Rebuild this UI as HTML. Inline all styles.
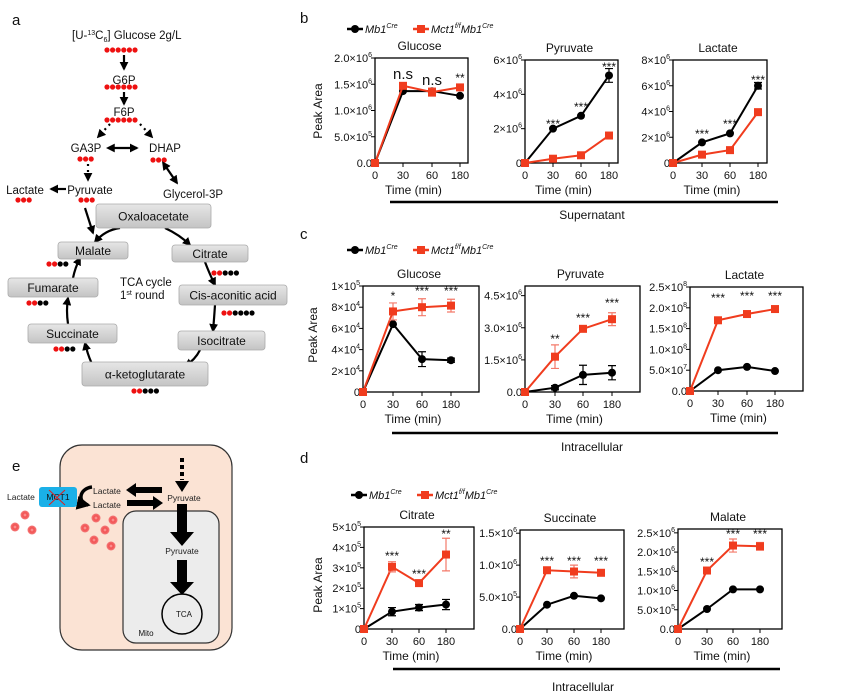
<!DOCTYPE html>
<html><head><meta charset="utf-8"><style>
html,body{margin:0;padding:0;background:#fff}
svg{display:block;font-family:"Liberation Sans",Arial,sans-serif}
</style></head><body>
<svg id="s" width="866" height="699" viewBox="0 0 866 699" xmlns="http://www.w3.org/2000/svg">
<defs>
<linearGradient id="gb" x1="0" y1="0" x2="0" y2="1"><stop offset="0" stop-color="#e6e6e6"/><stop offset="1" stop-color="#c4c4c4"/></linearGradient>
<radialGradient id="rb" cx="0.5" cy="0.5" r="0.5"><stop offset="0" stop-color="#ffb0b0"/><stop offset="0.45" stop-color="#f25050"/><stop offset="1" stop-color="#f47a7a"/></radialGradient>
<marker id="ah" viewBox="0 0 10 10" refX="8" refY="5" markerWidth="4" markerHeight="4" orient="auto"><path d="M0,0L10,5L0,10z" fill="#000"/></marker>
<marker id="ahs" viewBox="0 0 10 10" refX="2" refY="5" markerWidth="4" markerHeight="4" orient="auto-start-reverse"><path d="M0,0L10,5L0,10z" fill="#000"/></marker>
</defs>
<g id="a" font-size="11.5" fill="#111">
<text x="12" y="25" font-size="15">a</text>
<text x="72" y="39">[U-<tspan font-size="7" dy="-4">13</tspan><tspan dy="4">C</tspan><tspan font-size="7" dy="3">6</tspan><tspan dy="-3">] Glucose  2g/L</tspan></text>
<text x="124" y="84" text-anchor="middle">G6P</text>
<text x="124" y="116" text-anchor="middle">F6P</text>
<text x="86" y="152" text-anchor="middle">GA3P</text>
<text x="165" y="152" text-anchor="middle">DHAP</text>
<text x="90" y="194" text-anchor="middle">Pyruvate</text>
<text x="25" y="194" text-anchor="middle">Lactate</text>
<text x="193" y="198" text-anchor="middle">Glycerol-3P</text>
<text x="120" y="286">TCA cycle</text>
<text x="120" y="299">1<tspan font-size="7" dy="-4">st</tspan><tspan dy="4"> round</tspan></text>
</g>
<g id="e" fill="#111">
<text x="12" y="471" font-size="15">e</text>
<text x="182" y="462" font-size="12" font-weight="bold" text-anchor="middle">Glucose</text>
<rect x="60" y="445" width="172" height="205" rx="22" fill="#fbe3d4" stroke="#333" stroke-width="1.2"/>
<rect x="123" y="511" width="96" height="132" rx="13" fill="#ececec" stroke="#333" stroke-width="1.2"/>
<line x1="182" y1="458" x2="182" y2="480" stroke="#000" stroke-width="4" stroke-dasharray="4,3"/>
<path d="M175,481L189,481L182,492z" fill="#000"/>
<text x="184" y="501" font-size="8.5" text-anchor="middle" fill="#222">Pyruvate</text>
<path d="M177,504h10v28h7l-12,14l-12,-14h7z" fill="#000"/>
<text x="182" y="554" font-size="8.5" text-anchor="middle" fill="#222">Pyruvate</text>
<path d="M177,560h10v22h7l-12,13l-12,-13h7z" fill="#000"/>
<circle cx="182" cy="614" r="20" fill="none" stroke="#000" stroke-width="1.5"/>
<text x="184" y="617" font-size="8" text-anchor="middle">TCA</text>
<text x="146" y="636" font-size="8" text-anchor="middle">Mito</text>
<path d="M162,487v6h-26v4l-10,-7l10,-7v4z" fill="#000"/>
<path d="M127,500h26v-4l10,7l-10,7v-4h-26z" fill="#000"/>
<text x="93" y="494" font-size="8.5" fill="#222">Lactate</text>
<text x="93" y="508" font-size="8.5" fill="#222">Lactate</text>
<path d="M92,487C78,489 78,503 88,505" fill="none" stroke="#000" stroke-width="3.5" marker-end="url(#ah)"/>
<rect x="39" y="487" width="38" height="20" rx="3" fill="#1ab0e8"/>
<text x="58" y="500" font-size="8.5" text-anchor="middle" fill="#111">MCT1</text>
<path d="M49,490L65,505M65,490L49,505" stroke="#e02020" stroke-width="1"/>
<text x="7" y="500" font-size="8.5" fill="#222">Lactate</text>
<g fill="url(#rb)"><circle cx="25" cy="515" r="4.5"/><circle cx="15" cy="527" r="4.5"/><circle cx="32" cy="530" r="4.5"/><circle cx="96" cy="518" r="4.5"/><circle cx="113" cy="520" r="4.5"/><circle cx="85" cy="528" r="4.5"/><circle cx="105" cy="530" r="4.5"/><circle cx="94" cy="540" r="4.5"/><circle cx="111" cy="546" r="4.5"/></g>
</g>
<g id="ch"></g>
</svg>
<script>
var NS="http://www.w3.org/2000/svg";
function el(p,t,a,txt){var e=document.createElementNS(NS,t);for(var k in a)e.setAttribute(k,a[k]);if(txt!==undefined)e.textContent=txt;p.appendChild(e);return e;}
var S=document.getElementById('s'),A=document.getElementById('a'),C=document.getElementById('ch');
// panel a
function dots(g,x,y,n,red){for(var i=0;i<n;i++)el(g,'circle',{cx:x+i*5.6,cy:y,r:2.6,fill:i<red?'#ee1111':'#000'});}
dots(A,107,50,6,6);dots(A,107,87,6,6);dots(A,107,120,6,6);
dots(A,80,159,3,3);dots(A,153,160,3,3);dots(A,81,200,3,3);dots(A,18,200,3,3);
dots(A,49,264,4,2);dots(A,29,303,4,2);dots(A,56,349,4,2);dots(A,214,273,5,2);dots(A,224,313,6,2);dots(A,134,391,5,2);
function ln(g,x1,y1,x2,y2,w,both,dash){var a={x1:x1,y1:y1,x2:x2,y2:y2,stroke:'#000','stroke-width':w||2,'marker-end':'url(#ah)'};if(both)a['marker-start']='url(#ahs)';if(dash)a['stroke-dasharray']=dash;el(g,'line',a);}
ln(A,124,55,124,69,2.2);ln(A,124,92,124,104,2.2);
ln(A,110,124,98,137,2.2,false,'2,4');ln(A,140,124,152,137,2.2,false,'2,4');
ln(A,113,148,137,148,2.2,true);ln(A,88,164,88,180,2.2,false,'2,4');
ln(A,66,189,51,189,2.2);ln(A,166,167,177,183,2.2,true);ln(A,85,208,93,233,2.2);
function cyc(d){el(A,'path',{d:d,fill:'none',stroke:'#000','stroke-width':2.2,'marker-end':'url(#ah)'});}
cyc('M120,228Q105,230 95,242');cyc('M165,228Q180,235 190,245');cyc('M205,262Q210,275 215,285');
cyc('M215,305Q214,320 213,331');cyc('M200,350Q195,360 185,366');cyc('M100,376Q90,365 85,343');
cyc('M68,324Q66,310 68,298');cyc('M73,278Q75,268 80,258');
function box(x,y,w,h,t,fs){el(A,'rect',{x:x,y:y,width:w,height:h,rx:3,fill:'url(#gb)',stroke:'#aaa','stroke-width':0.8});el(A,'text',{x:x+w/2,y:y+h/2+4.5,'text-anchor':'middle','font-size':fs||12},t);}
box(96,204,115,24,'Oxaloacetate');box(58,242,70,17,'Malate');box(172,245,76,17,'Citrate');
box(8,278,90,19,'Fumarate');box(179,285,108,20,'Cis-aconitic acid');box(28,324,89,19,'Succinate');
box(178,331,87,19,'Isocitrate');box(82,362,126,24,'α-ketoglutarate');
// charts
function T(x,y,t,o){var a={x:x,y:y,'font-size':11,fill:'#111'};for(var k in o)a[k]=o[k];return el(C,'text',a,t);}
function legend(y,lx){el(C,'line',{x1:lx,y1:y,x2:lx+16,y2:y,stroke:'#000','stroke-width':2.5});el(C,'circle',{cx:lx+8,cy:y,r:4,fill:'#000'});
T(lx+18,y+4,'',{}).innerHTML='<tspan font-style="italic" font-size="11">Mb1</tspan><tspan font-style="italic" font-size="7" dy="-5">Cre</tspan>';
var r=lx+66;el(C,'line',{x1:r,y1:y,x2:r+16,y2:y,stroke:'#f03c1e','stroke-width':2.5});el(C,'rect',{x:r+4,y:y-4,width:8,height:8,fill:'#f03c1e'});
T(r+18,y+4,'').innerHTML='<tspan font-style="italic">Mct1</tspan><tspan font-style="italic" font-size="7" dy="-5">f/f</tspan><tspan font-style="italic" dy="5">Mb1</tspan><tspan font-style="italic" font-size="7" dy="-5">Cre</tspan>';}
function chart(c){var x0=c.b[0],x1=c.b[1],y0=c.b[2],y1=c.b[3];
function Y(v){return y1-(v/c.ymax)*(y1-y0);}
el(C,'rect',{x:x0,y:y0,width:x1-x0,height:y1-y0,fill:'none',stroke:'#000','stroke-width':1.3});
T((x0+x1)/2-2,y0-8,c.title,{'text-anchor':'middle','font-size':12});
c.ticks.forEach(function(t){var y=Y(t[0]);el(C,'line',{x1:x0-4,y1:y,x2:x0,y2:y,stroke:'#000'});T(x0-3,y+4,'',{'text-anchor':'end','font-size':11}).innerHTML=t[1];});
var lab=['0','30','60','180'];c.xt.forEach(function(x,i){el(C,'line',{x1:x,y1:y1,x2:x,y2:y1+4,stroke:'#000'});T(x,y1+16,lab[i],{'text-anchor':'middle','font-size':11});});
T((x0+x1)/2-8,y1+31,'Time (min)',{'text-anchor':'middle','font-size':12});
[['#000',c.k,c.ke],['#f03c1e',c.r,c.re]].forEach(function(s,si){var p='';s[1].forEach(function(v,i){p+=(i?'L':'M')+c.xt[i]+','+Y(v);});
el(C,'path',{d:p,fill:'none',stroke:s[0],'stroke-width':2});
s[1].forEach(function(v,i){var e=(s[2]||[])[i]||0,x=c.xt[i];if(e){el(C,'path',{d:'M'+x+','+Y(v-e)+'V'+Y(v+e)+'M'+(x-4)+','+Y(v-e)+'h8M'+(x-4)+','+Y(v+e)+'h8',stroke:si?'#f47a6a':'#000','stroke-width':1.2,fill:'none'});}
if(si)el(C,'rect',{x:x-4,y:Y(v)-4,width:8,height:8,fill:s[0]});else el(C,'circle',{cx:x,cy:Y(v),r:4,fill:'#000'});});});
(c.st||[]).forEach(function(s){T(c.xt[s[0]],s[2],s[1],{'text-anchor':'middle','font-size':s[3]||12});});}
function S5(m,e){return m+'×10<tspan font-size="7" dy="-5">'+e+'</tspan>';}
// panel b
T(300,23,'b',{'font-size':15});legend(29,347);
chart({b:[375,468,58,163],ymax:2,title:'Glucose',ticks:[[2,S5('2.0',6)],[1.5,S5('1.5',6)],[1,S5('1.0',6)],[0.5,S5('5.0',5)],[0,'0.0']],xt:[375,403,432,460],k:[0,1.37,1.37,1.28],r:[0,1.47,1.35,1.44],re:[0,0.05,0.08,0.04],st:[[1,'n.s',79,15],[2,'n.s',85,15],[3,'**',82]]});
chart({b:[525,618,60,163],ymax:6,title:'Pyruvate',ticks:[[6,S5('6',6)],[4,S5('4',6)],[2,S5('2',6)],[0,'0']],xt:[525,553,581,609],k:[0,2.0,2.75,5.1],ke:[0,0,0,0.4],r:[0,0.25,0.45,1.6],st:[[1,'***',128],[2,'***',111],[3,'***',71]]});
chart({b:[673,767,60,163],ymax:8,title:'Lactate',ticks:[[8,S5('8',6)],[6,S5('6',6)],[4,S5('4',6)],[2,S5('2',6)],[0,'0']],xt:[673,702,730,758],k:[0,1.6,2.3,6.0],ke:[0,0,0,0.25],r:[0,0.65,1.0,3.95],st:[[1,'***',138],[2,'***',128],[3,'***',84]]});
el(C,'line',{x1:390,y1:202,x2:778,y2:202,stroke:'#000','stroke-width':2.5});T(592,219,'Supernatant',{'text-anchor':'middle','font-size':12});
// panel c
T(300,239,'c',{'font-size':15});legend(250,347);
chart({b:[363,479,286,392],ymax:10,title:'Glucose',ticks:[[10,'1×10<tspan font-size="7" dy="-5">5</tspan>'],[8,S5('8',4).replace('8×','8×')],[6,S5('6',4)],[4,S5('4',4)],[2,S5('2',4)],[0,'0']],xt:[363,393,422,451],k:[0,6.4,3.1,3.0],ke:[0,0,0.7,0.2],r:[0,7.6,8.0,8.15],re:[0,0.8,0.8,0.6],st:[[1,'*',300],[2,'***',295],[3,'***',295]]});
chart({b:[525,640,286,392],ymax:4.95,title:'Pyruvate',ticks:[[4.5,S5('4.5',6)],[3,S5('3.0',6)],[1.5,S5('1.5',6)],[0,'0.0']],xt:[525,555,583,612],k:[0,0.2,0.8,0.9],ke:[0,0.1,0.45,0.33],r:[0,1.65,2.95,3.4],re:[0,0.55,0.1,0.3],st:[[1,'**',343],[2,'***',322],[3,'***',307]]});
chart({b:[690,803,287,391],ymax:2.5,title:'Lactate',ticks:[[2.5,S5('2.5',8)],[2,S5('2.0',8)],[1.5,S5('1.5',8)],[1,S5('1.0',8)],[0.5,S5('5.0',7)],[0,'0.0']],xt:[690,718,747,775],k:[0,0.5,0.58,0.48],r:[0,1.7,1.85,1.97],st:[[1,'***',302],[2,'***',300],[3,'***',300]]});
el(C,'line',{x1:392,y1:433,x2:778,y2:433,stroke:'#000','stroke-width':2.5});T(592,451,'Intracellular',{'text-anchor':'middle','font-size':12});
// panel d
T(300,463,'d',{'font-size':15});legend(495,351);
chart({b:[364,474,527,629],ymax:5,title:'Citrate',ticks:[[5,S5('5',5)],[4,S5('4',5)],[3,S5('3',5)],[2,S5('2',5)],[1,S5('1',5)],[0,'0']],xt:[364,392,419,446],k:[0,0.85,1.05,1.2],ke:[0,0.2,0.15,0.25],r:[0,3.05,2.25,3.65],re:[0,0.25,0.12,0.8],st:[[1,'***',560],[2,'***',578],[3,'**',538]]});
chart({b:[520,624,530,629],ymax:1.55,title:'Succinate',ticks:[[1.5,S5('1.5',6)],[1,S5('1.0',6)],[0.5,S5('5.0',5)],[0,'0.0']],xt:[520,547,574,601],k:[0,0.38,0.52,0.48],r:[0,0.92,0.9,0.88],re:[0,0.03,0.1,0.04],st:[[1,'***',565],[2,'***',565],[3,'***',565]]});
chart({b:[678,782,529,629],ymax:2.6,title:'Malate',ticks:[[2.5,S5('2.5',6)],[2,S5('2.0',6)],[1.5,S5('1.5',6)],[1,S5('1.0',6)],[0.5,S5('5.0',5)],[0,'0.0']],xt:[678,707,733,760],k:[0,0.52,1.03,1.03],r:[0,1.52,2.17,2.15],re:[0,0.03,0.17,0.1],st:[[1,'***',566],[2,'***',538],[3,'***',538]]});
el(C,'line',{x1:393,y1:669,x2:780,y2:669,stroke:'#000','stroke-width':2.5});T(583,691,'Intracellular',{'text-anchor':'middle','font-size':12});
// y labels
[[322,111],[317,335],[322,585]].forEach(function(p){T(p[0],p[1],'Peak Area',{'text-anchor':'middle','font-size':12,transform:'rotate(-90 '+p[0]+' '+p[1]+')'});});
</script>
</body></html>
